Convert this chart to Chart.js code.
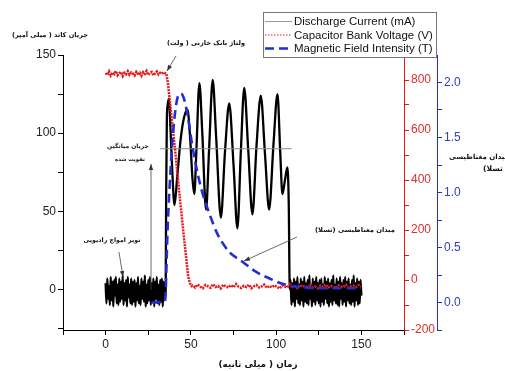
<!DOCTYPE html>
<html>
<head>
<meta charset="utf-8">
<script src="https://cdn.jsdelivr.net/npm/chart.js@4.4.1/dist/chart.umd.min.js"></script>
<style>
  html, body { margin: 0; padding: 0; background: #fff; }
  canvas { display: block; }
</style>
</head>
<body>
<canvas id="chart" width="505" height="371"></canvas>
<script>
// ticks (minor + major) and the ones that get a label
const timeTicks = [-25, 0, 25, 50, 75, 100, 125, 150, 175];
const timeLabels = [0, 50, 100, 150];
const currentTicks = [-25, 0, 25, 50, 75, 100, 125, 150];
const currentLabels = [0, 50, 100, 150];
const voltTicks = [-200, -100, 0, 100, 200, 300, 400, 500, 600, 700, 800];
const voltLabels = [-200, 0, 200, 400, 600, 800];
const fieldTicks = [-0.25, 0, 0.25, 0.5, 0.75, 1, 1.25, 1.5, 1.75, 2];
const fieldLabels = [0, 0.5, 1, 1.5, 2];

// discharge current (mA)
// rf noise before the discharge, one sample every 0.5 ms from t = 0
const noiseLeft = [4,-9,7,-6,2,-10,8,-7,5,-11, 6,-4,8,-9,3,-10,7,-8,5,-6,
  9,-10,4,-7,6,-11,8,-5,3,-9, 7,-10,5,-8,6,-11,4,-7,8,-9,
  2,-10,7,-6,5,-8,9,-11,3,-9, 6,-7,8,-10,4,-8,7,-11,5,-6,
  8,-9,3,-10,6,-8,7,-11,5,-7, 4];
const oscTime = [35.2, 35.5, 35.9, 36.4, 37.2, 38, 39, 40.4, 42, 44, 46, 48, 49.5, 51, 52, 53.2, 55, 56.7,
  58.9, 60.7, 62.8, 64.8, 67.6, 70, 72.5, 75, 77.3, 79.3, 81.3, 83.6, 86.1, 88.5, 91, 93.5, 95.9,
  98.4, 100.8, 102.4, 103.7, 105.2, 106.6, 107.4, 108];
const oscCurrent = [-3, 60, 108, 118, 122, 104, 78, 54, 72, 96, 110, 115, 98, 70, 61, 88, 132, 100,
  51, 90, 134, 98, 46, 88, 119, 80, 39, 88, 129, 90, 48, 92, 124, 86, 51,
  92, 125, 88, 61, 70, 78, 55, 0];
// rf noise after the discharge, one sample every 0.5 ms from t = 108.5
const noiseRight = [6,-10,4,-8,7,-11,5,-6,8,-9, 3,-10,7,-7,5,-11,8,-8,4,-9,
  6,-10,9,-6,3,-11,7,-8,5,-10, 8,-7,4,-9,6,-11,7,-8,3,-10,
  8,-6,5,-9,7,-11,4,-8,6,-10, 9,-7,3,-9,7,-10,5,-11,8,-6,
  4,-10,6,-8,8,-11,5,-7,7,-9, 3,-10,6,-8,9,-11,4,-7,7,-10, 5,-9,6,-4];
const avgTime = [32, 109];
const avgCurrent = [90, 90];

// capacitor bank voltage (V)
const voltBefore = [828,820,834,818,830,824,836,819,827,832, 816,829,823,835,821,830,826,818,833,825,
  829,817,831,824,836,820,828,832,819,826, 834,822,829,825,831,827]; // every 1 ms from 0
const dropTime = [35.6, 36.5, 37.4, 40.4, 43.3, 46.2, 48.4, 49.4, 50.4];
const dropVolt = [826, 790, 733, 544, 343, 154, 15, -12, -24];
const voltAfter = [-22,-30,-18,-27,-33,-20,-25,-31,-17,-28, -24,-34,-19,-26,-30,-21,-29,-16,-27,-32,
  -23,-28,-19,-33,-25,-20,-30,-26,-18,-31, -24,-29,-21,-27,-34,-22,-26,-30,-17,-28,
  -25,-32,-20,-27,-23,-31,-19,-29,-26,-33, -22,-28,-18,-30,-24,-27,-32,-21,-26,-29,
  -19,-31,-25,-23,-28,-20,-26]; // every 1.5 ms from 51

// magnetic field intensity (T)
const fieldTime = [27, 34.8, 36.4, 38.4, 40.4, 42.3, 44.2, 46.2, 48.1, 51, 54, 56.9, 60.8, 65.7,
  72.5, 80.3, 88.1, 95.9, 103.7, 113.5, 125, 150];
const fieldValues = [0, 0.01, 0.69, 1.29, 1.68, 1.87, 1.9, 1.84, 1.7, 1.41, 1.17, 0.99, 0.81, 0.62,
  0.46, 0.37, 0.28, 0.22, 0.17, 0.14, 0.13, 0.13];

const pts = (xs, ys) => xs.map((x, i) => ({ x: x, y: ys[i] }));
const sampled = (t0, dt, ys) => ys.map((y, i) => ({ x: t0 + i * dt, y: y }));

const currentData = [...sampled(0, 0.5, noiseLeft), ...pts(oscTime, oscCurrent), ...sampled(108.5, 0.5, noiseRight)];
const voltData = [...sampled(0, 1, voltBefore), ...pts(dropTime, dropVolt), ...sampled(51, 1.5, voltAfter)];
const fieldData = pts(fieldTime, fieldValues);
const avgData = pts(avgTime, avgCurrent);

const RED = '#e3191c';
const BLUE = '#1f2fd2';
const FONT = "'Liberation Sans', Arial, sans-serif";
const FA = "'DejaVu Sans', sans-serif";

function axis(pos, min, max, ticks, labels, color, labelColor, fmt, size) {
  return {
    type: 'linear', position: pos, min: min, max: max,
    border: { display: true, color: color, width: 1 },
    grid: { drawOnChartArea: false, tickLength: 5, tickColor: color, tickWidth: 1 },
    ticks: {
      color: labelColor, padding: 2, autoSkip: false, maxRotation: 0,
      font: { family: FONT, size: 12 },
      callback: v => labels.includes(v) ? fmt(v) : ''
    },
    afterBuildTicks: s => { s.ticks = ticks.map(v => ({ value: v })); },
    afterFit: s => { if (pos === 'bottom') s.height = size; else s.width = size; }
  };
}

function fitText(ctx, txt, cx, cy, w, weight) {
  ctx.font = `${weight} 20px ${FA}`;
  const m = ctx.measureText(txt).width;
  ctx.font = `${weight} ${(20 * w / m).toFixed(2)}px ${FA}`;
  ctx.fillText(txt, cx, cy);
}

function arrow(ctx, x1, y1, x2, y2) {
  ctx.beginPath();
  ctx.moveTo(x1, y1);
  ctx.lineTo(x2, y2);
  ctx.stroke();
  const a = Math.atan2(y2 - y1, x2 - x1);
  ctx.beginPath();
  ctx.moveTo(x2, y2);
  ctx.lineTo(x2 - 6 * Math.cos(a) + 2.2 * Math.sin(a), y2 - 6 * Math.sin(a) - 2.2 * Math.cos(a));
  ctx.lineTo(x2 - 6 * Math.cos(a) - 2.2 * Math.sin(a), y2 - 6 * Math.sin(a) + 2.2 * Math.cos(a));
  ctx.closePath();
  ctx.fill();
}

const notes = {
  id: 'notes',
  afterDraw(chart) {
    const ctx = chart.ctx;
    ctx.save();

    // arrows
    ctx.strokeStyle = '#444';
    ctx.fillStyle = '#333';
    ctx.lineWidth = 0.8;
    arrow(ctx, 176, 56, 167, 71);
    arrow(ctx, 151, 290, 151, 164);
    arrow(ctx, 119, 252, 123, 277);
    arrow(ctx, 297, 237, 244, 261);

    // persian labels
    ctx.fillStyle = '#111';
    ctx.textAlign = 'center';
    ctx.textBaseline = 'middle';
    ctx.direction = 'rtl';
    fitText(ctx, 'جریان کاتد ( میلی آمپر)', 50, 35, 76, 'bold');
    fitText(ctx, 'ولتاژ بانک خازنی ( ولت)', 206, 43, 78, 'bold');
    fitText(ctx, 'جریان میانگین', 128, 146, 42, 'bold');
    fitText(ctx, 'تقویت شده', 130, 160, 30, 'bold');
    fitText(ctx, 'نویز امواج رادیویی', 112, 240, 57, 'bold');
    fitText(ctx, 'میدان مغناطیسی (تسلا)', 355, 230, 80, 'bold');
    fitText(ctx, 'میدان مغناطیسی', 479, 157, 60, 'bold');
    fitText(ctx, '( تسلا)', 496, 169, 26, 'bold');
    fitText(ctx, 'زمان ( میلی ثانیه)', 258, 365, 79, 'bold');

    // legend box
    ctx.direction = 'ltr';
    ctx.fillStyle = '#fff';
    ctx.fillRect(263.5, 12.5, 173, 45);
    ctx.strokeStyle = '#777';
    ctx.lineWidth = 1;
    ctx.strokeRect(263.5, 12.5, 173, 45);
    const rows = [
      { label: chart.data.datasets[0].label, color: '#999', dash: [], w: 1, y: 21.5 },
      { label: chart.data.datasets[1].label, color: RED, dash: [1.5, 1.5], w: 1.2, y: 35 },
      { label: chart.data.datasets[2].label, color: BLUE, dash: [9, 5], w: 2.5, y: 48.5 }
    ];
    ctx.textAlign = 'left';
    ctx.font = `11.5px ${FONT}`;
    rows.forEach(r => {
      ctx.beginPath();
      ctx.strokeStyle = r.color;
      ctx.lineWidth = r.w;
      ctx.setLineDash(r.dash);
      ctx.moveTo(265, r.y);
      ctx.lineTo(292, r.y);
      ctx.stroke();
      ctx.setLineDash([]);
      ctx.fillStyle = '#111';
      ctx.fillText(r.label, 294, r.y + 0.5);
    });
    ctx.restore();
  }
};

new Chart(document.getElementById('chart'), {
  type: 'line',
  data: {
    datasets: [
      {
        label: 'Discharge Current (mA)', data: currentData, yAxisID: 'y',
        borderColor: '#000', borderWidth: 2, pointRadius: 0, order: 4,
        cubicInterpolationMode: 'monotone',
        segment: { borderWidth: c => (c.p0.parsed.x >= 35 && c.p1.parsed.x <= 107.5) ? 2.3 : 2.3 }
      },
      {
        label: 'Capacitor Bank Voltage (V)', data: voltData, yAxisID: 'yV',
        borderColor: RED, borderWidth: 2.5, borderDash: [2, 1], pointRadius: 0, order: 2
      },
      {
        label: 'Magnetic Field Intensity (T)', data: fieldData, yAxisID: 'yB',
        borderColor: BLUE, borderWidth: 2.6, borderDash: [9, 5], pointRadius: 0,
        cubicInterpolationMode: 'monotone', order: 1
      },
      {
        label: 'average', data: avgData, yAxisID: 'y',
        borderColor: '#8a8a8a', borderWidth: 1, pointRadius: 0, order: 3
      }
    ]
  },
  options: {
    responsive: false,
    animation: false,
    events: [],
    layout: { padding: { left: 0, right: 38, top: 55, bottom: 21 } },
    plugins: { legend: { display: false }, tooltip: { enabled: false } },
    scales: {
      x: axis('bottom', -25, 175, timeTicks, timeLabels, '#000', '#222', v => String(v), 20),
      y: axis('left', -26, 150, currentTicks, currentLabels, '#000', '#222', v => String(v), 63),
      yV: Object.assign(axis('right', -200, 900, voltTicks, voltLabels, RED, '#d8302c', v => String(v), 33), { weight: 0 }),
      yB: Object.assign(axis('right', -0.25, 2.25, fieldTicks, fieldLabels, BLUE, '#3140b8', v => v.toFixed(1), 30), { weight: 1 })
    }
  },
  plugins: [notes]
});
</script>
</body>
</html>
